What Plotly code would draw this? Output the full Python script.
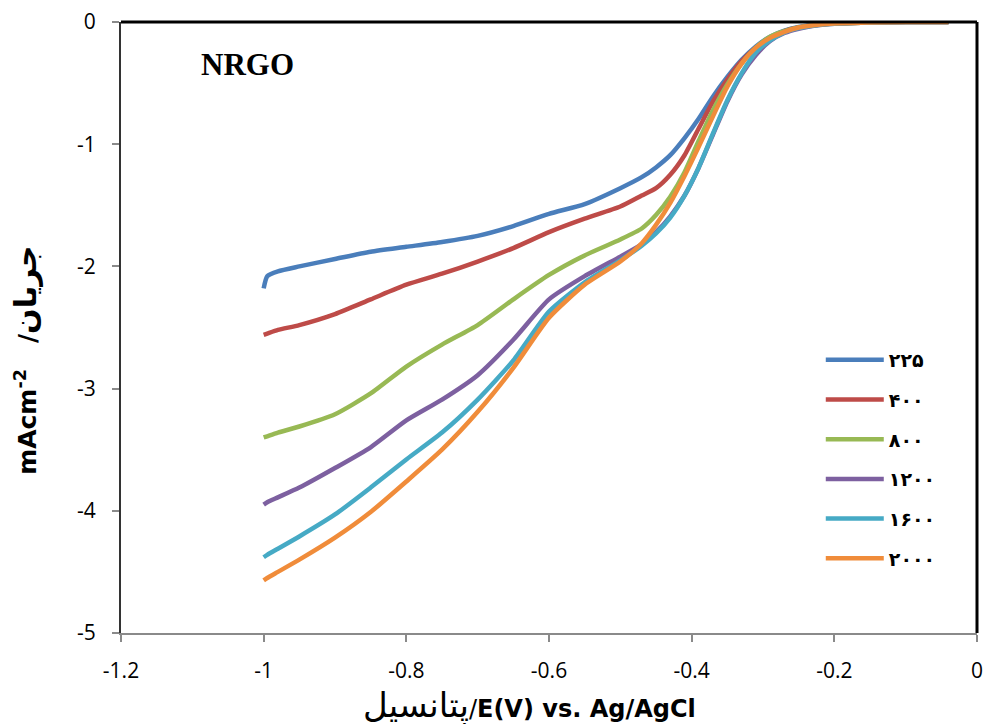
import plotly.graph_objects as go

# ---- data ----
E = [-1.0, -0.995, -0.98, -0.95, -0.9, -0.85, -0.8, -0.75, -0.7, -0.65, -0.6, -0.55, -0.5,
     -0.47, -0.45, -0.43, -0.41, -0.39, -0.37, -0.35, -0.33, -0.31, -0.29, -0.27,
     -0.25, -0.22, -0.2, -0.15, -0.1, -0.04]

i_225 = [-2.18, -2.08, -2.04, -2.00, -1.94, -1.88, -1.84, -1.80, -1.75, -1.67, -1.57, -1.49, -1.36,
         -1.27, -1.19, -1.09, -0.95, -0.79, -0.61, -0.45, -0.31, -0.20, -0.12, -0.07,
         -0.04, -0.015, -0.01, -0.003, 0.0, 0.0]
i_400 = [-2.56, -2.55, -2.52, -2.48, -2.39, -2.27, -2.15, -2.06, -1.96, -1.85, -1.72, -1.61, -1.51,
         -1.42, -1.36, -1.25, -1.09, -0.87, -0.65, -0.47, -0.32, -0.21, -0.13, -0.075,
         -0.045, -0.02, -0.012, -0.004, -0.001, 0.0]
i_800 = [-3.40, -3.39, -3.36, -3.31, -3.21, -3.04, -2.82, -2.64, -2.48, -2.27, -2.07, -1.91, -1.78,
         -1.69, -1.58, -1.43, -1.23, -0.97, -0.72, -0.51, -0.34, -0.21, -0.12, -0.075,
         -0.045, -0.02, -0.012, -0.004, -0.001, 0.0]
i_1200 = [-3.95, -3.93, -3.89, -3.81, -3.65, -3.48, -3.26, -3.09, -2.89, -2.60, -2.27, -2.08, -1.92,
          -1.82, -1.72, -1.59, -1.42, -1.19, -0.92, -0.65, -0.43, -0.27, -0.155, -0.09,
          -0.055, -0.025, -0.015, -0.005, -0.001, 0.0]
i_1600 = [-4.38, -4.36, -4.31, -4.21, -4.03, -3.81, -3.58, -3.36, -3.09, -2.77, -2.37, -2.13, -1.95,
          -1.83, -1.73, -1.60, -1.42, -1.19, -0.91, -0.64, -0.42, -0.25, -0.15, -0.085,
          -0.05, -0.022, -0.014, -0.004, -0.001, 0.0]
i_2000 = [-4.57, -4.55, -4.50, -4.40, -4.22, -4.01, -3.76, -3.50, -3.19, -2.83, -2.42, -2.15, -1.96,
          -1.81, -1.66, -1.48, -1.26, -1.02, -0.77, -0.53, -0.34, -0.21, -0.13, -0.08,
          -0.045, -0.02, -0.012, -0.004, -0.001, 0.0]

series_names = ["۲۲۵", "۴۰۰", "۸۰۰", "۱۲۰۰", "۱۶۰۰", "۲۰۰۰"]
series_values = [i_225, i_400, i_800, i_1200, i_1600, i_2000]
colors = ["#4A7EBB", "#BE4B48", "#98B954", "#7D60A0", "#46AAC5", "#F08C3A"]

x_tickvals = [-1.2, -1.0, -0.8, -0.6, -0.4, -0.2, 0.0]
x_ticktext = ["-1.2", "-1", "-0.8", "-0.6", "-0.4", "-0.2", "0"]
y_tickvals = [-5, -4, -3, -2, -1, 0]
y_ticktext = ["-5", "-4", "-3", "-2", "-1", "0"]

fig = go.Figure()
for k, (name, vals, col) in enumerate(zip(series_names, series_values, colors)):
    fig.add_trace(go.Scatter(
        x=E, y=vals, mode="lines", name=name, legendgroup=str(k),
        line=dict(color=col, width=4.5, shape="spline", smoothing=0.6),
    ))

fig.update_layout(
    width=987, height=724,
    margin=dict(l=121, r=10, t=22, b=91, autoexpand=False),
    plot_bgcolor="white", paper_bgcolor="white",
    font=dict(family="Open Sans, DejaVu Sans, sans-serif", color="black"),
    showlegend=True,
    legend=dict(
        x=0.8175, y=0.478, xanchor="left", yanchor="top",
        bgcolor="rgba(0,0,0,0)", tracegroupgap=12, itemwidth=58,
        font=dict(family="DejaVu Sans", size=19, color="black", weight="bold"),
    ),
    annotations=[
        dict(text="<b>NRGO</b>", x=0.148, y=0.930, xref="paper", yref="paper",
             xanchor="center", yanchor="middle", showarrow=False,
             font=dict(family="Liberation Serif", size=31, color="black")),
        dict(text="<b>mAcm<sup>-2</sup>   /<span style='font-size:30px'>جریان</span></b>",
             x=-0.111, y=0.447, xref="paper", yref="paper", textangle=-90,
             xanchor="center", yanchor="middle", showarrow=False,
             font=dict(family="DejaVu Sans", size=25, color="black")),
        dict(text="<span style='font-size:34px'>پتانسیل</span>/<b>E(V) vs. Ag/AgCl</b>",
             x=0.477, y=-0.119, xref="paper", yref="paper",
             xanchor="center", yanchor="middle", showarrow=False,
             font=dict(family="DejaVu Sans", size=24, color="black")),
    ],
    shapes=[
        dict(type="line", xref="paper", yref="paper", x0=0, x1=1, y0=1, y1=1,
             line=dict(color="black", width=3)),
        dict(type="line", xref="paper", yref="paper", x0=1, x1=1, y0=0, y1=1,
             line=dict(color="black", width=3)),
    ],
)

fig.update_xaxes(
    range=[-1.2, 0], tickvals=x_tickvals, ticktext=x_ticktext,
    showgrid=False, zeroline=False, automargin=False,
    showline=True, linecolor="#8a8a8a", linewidth=2,
    ticks="outside", ticklen=7, tickcolor="#8a8a8a", tickwidth=1.5,
    ticklabelstandoff=11,
    tickfont=dict(family="Open Sans", size=21, color="black"),
)
fig.update_yaxes(
    range=[-5, 0], tickvals=y_tickvals, ticktext=y_ticktext,
    showgrid=False, zeroline=False, automargin=False,
    showline=True, linecolor="#333333", linewidth=2,
    ticks="outside", ticklen=7, tickcolor="#8a8a8a", tickwidth=1.5,
    ticklabelstandoff=12,
    tickfont=dict(family="Open Sans", size=21, color="black"),
)

# remove the default 8px page margin so the figure fills the window exactly
fig.write_html("out.html", config={"displayModeBar": False},
               post_script="document.body.style.margin='0';")
